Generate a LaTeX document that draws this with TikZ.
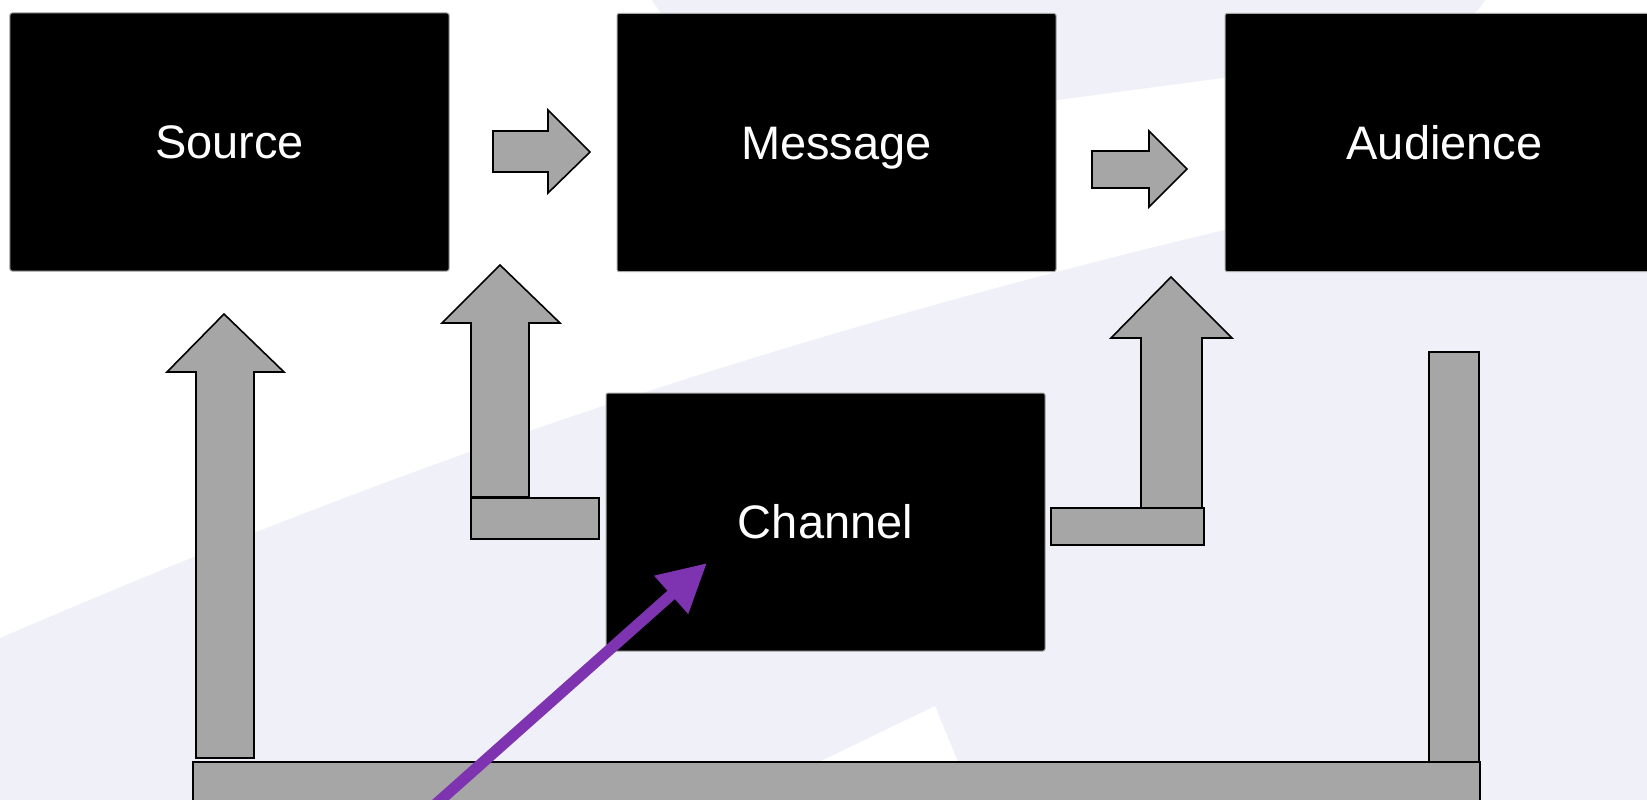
\documentclass[tikz,border=0pt]{standalone}
\usepackage{fontspec}
\setmainfont{Liberation Sans}
\usepackage{tikz}
\usetikzlibrary{arrows.meta}
\definecolor{lavender}{HTML}{F0F0F8}
\definecolor{blockgray}{HTML}{A6A6A6}
\definecolor{purplearrow}{HTML}{7E33B0}

\begin{document}
\begin{tikzpicture}[x=0.5bp, y=-0.5bp, >=Triangle,
    box/.style = {draw=gray!70, line width=0.5bp, fill=black, text=white, rounded corners=1bp,
      minimum width=219.5bp, minimum height=129bp, inner sep=0pt,
      text height=16.8bp, text depth=0pt, font=\fontsize{23.5bp}{28bp}\selectfont},
    block/.style = {draw=black, line width=0.8bp, fill=blockgray, line join=miter}]
    \useasboundingbox (0,0) rectangle (1647,800);

    % Background
    \fill[white] (0,0) rectangle (1647,800);
    \fill[lavender] (652,0) .. controls (700,80) and (850,115) .. (1057,100) -- (1223,78)
        .. controls (1400,55) and (1470,30) .. (1485,0) -- cycle;
    \fill[lavender] (0,638) .. controls (300,510) and (800,300) .. (1647,140) -- (1647,800) -- (0,800) -- cycle;
    \fill[white] (819,762) -- (935,706) -- (958,762) -- (965,800) -- (780,800) -- cycle;

    % Nodes
    \node[box] (src) at (229.5,142) {Source};
    \node[box] (msg) at (836.5,142.5) {Message};
    \node[box] (aud) at (1444.5,142.5) {Audience};
    \node[box] (chn) at (825.5,522) {Channel};

    % Block arrows
    \draw[block] (493,131) -- (548,131) -- (548,110) -- (590,152) -- (548,193) -- (548,172) -- (493,172) -- cycle;
    \draw[block] (1092,151) -- (1149,151) -- (1149,131) -- (1187,169) -- (1149,207) -- (1149,188) -- (1092,188) -- cycle;
    \draw[block] (196,758) -- (196,372) -- (167,372) -- (224,314) -- (284,372) -- (254,372) -- (254,758) -- cycle;
    \draw[block] (471,497) -- (471,323) -- (442,323) -- (500,265) -- (560,323) -- (529,323) -- (529,497) -- cycle;
    \draw[block] (1141,508) -- (1141,338) -- (1111,338) -- (1171,277) -- (1232,338) -- (1202,338) -- (1202,508) -- cycle;

    % Bars
    \draw[block] (471,498) rectangle (599,539);
    \draw[block] (1051,508) rectangle (1204,545);
    \draw[block] (1429,352) rectangle (1479,764);
    \draw[block] (193,762) rectangle (1480,815);

    % Edges
    \coordinate (tail) at (427,812);
    \coordinate (tip) at (707,563);
    \draw[->, purplearrow, line width=5.6bp, arrows={-Triangle[length=24bp, width=24bp]}] (tail) -- (tip);

\end{tikzpicture}
\end{document}
